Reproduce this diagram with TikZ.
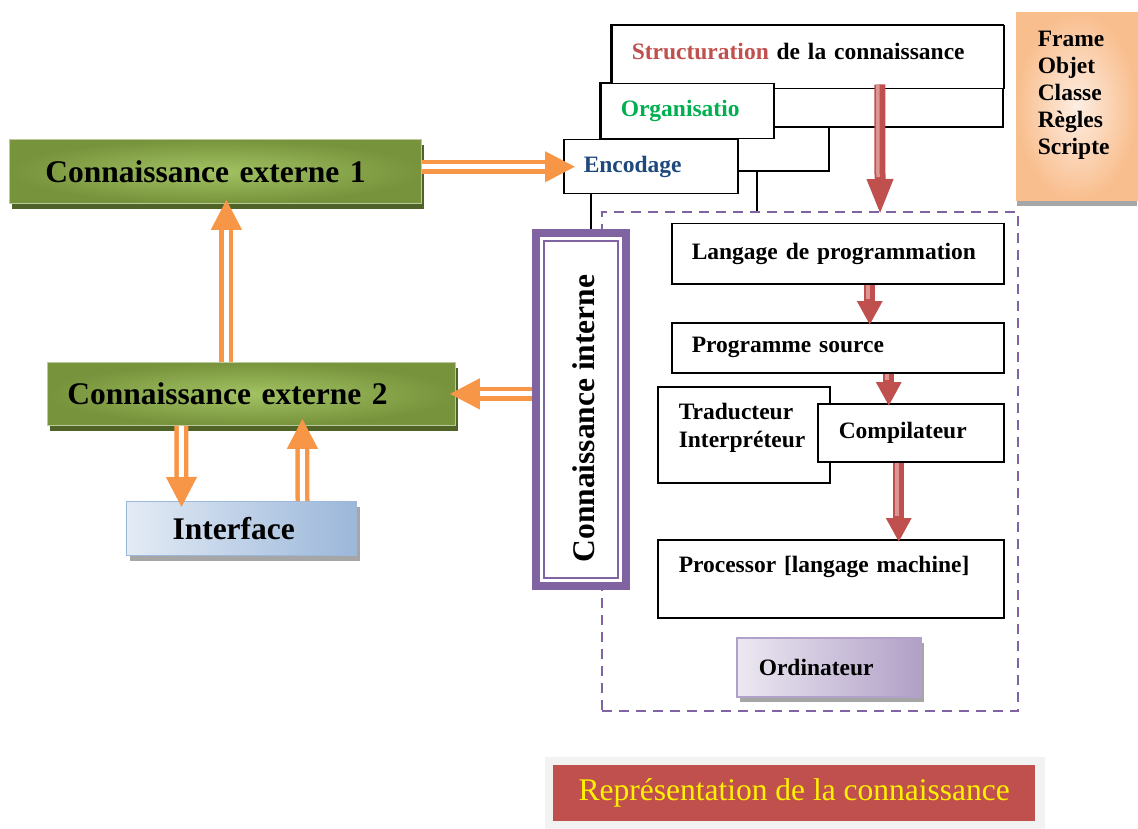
\documentclass[tikz,border=0pt]{standalone}
\usepackage{fontspec}
\setmainfont{Liberation Serif}
\usetikzlibrary{arrows.meta}
\usetikzlibrary{shadows}

\definecolor{olivegreen}{HTML}{77933C}
\definecolor{olivelight}{HTML}{A2C262}
\definecolor{oliveshade}{HTML}{4F6228}
\definecolor{orangearrow}{HTML}{F79646}
\definecolor{redarrow}{HTML}{C0504D}
\definecolor{redlight}{HTML}{DC9593}
\definecolor{purpleline}{HTML}{8064A2}
\definecolor{purplelight}{HTML}{ECE8F2}
\definecolor{purpledark}{HTML}{B1A0C7}
\definecolor{bluelight}{HTML}{E3EBF5}
\definecolor{bluedark}{HTML}{9BB7DA}
\definecolor{peachlight}{HTML}{FDEEE2}
\definecolor{peachdark}{HTML}{F9BE8E}
\definecolor{strucred}{HTML}{C0504D}
\definecolor{orgagreen}{HTML}{00B050}
\definecolor{encblue}{HTML}{1F497D}
\definecolor{graybg}{HTML}{F2F2F2}
\definecolor{shadowgray}{HTML}{A6A6A6}

\begin{document}
\begin{tikzpicture}[x=1pt, y=-1pt,
  smalltext/.style={font=\fontsize{23.5}{28}\selectfont\bfseries},
  bigtext/.style={font=\fontsize{31.5}{36}\selectfont\bfseries},
  cell/.style={smalltext, draw=black, line width=1.5pt, fill=white, anchor=north west,
    inner xsep=20pt, inner ysep=0pt, align=left},
  backbox/.style={draw=black, line width=1.5pt, fill=white},
  extbox/.style={bigtext, anchor=north west, inner ysep=0pt, align=left,
    inner color=olivelight, outer color=olivegreen, draw=olivegreen!50!white, line width=.8pt,
    drop shadow={shadow xshift=3pt, shadow yshift=-6pt, fill=oliveshade, opacity=1}},
  oarrow/.style={draw=orangearrow, line width=4.5pt, double=white, double distance=5pt,
    -{Triangle[length=30pt, width=30pt]}},
  rarrow/.style={draw=redarrow, line width=11pt, -{Triangle[length=24pt, width=24pt]}},
  shine/.style={draw=redlight, line width=3.5pt, transform canvas={xshift=-2pt}}
]
\useasboundingbox (0,0) rectangle (1138,829);

\node[draw=peachdark, line width=1.5pt, inner color=peachlight, outer color=peachdark,
  font=\fontsize{23.5}{27}\selectfont\bfseries, anchor=north west, minimum height=188pt,
  inner xsep=21pt, text width=78pt, align=left,
  drop shadow={shadow xshift=0pt, shadow yshift=-5pt, fill=shadowgray, opacity=1}]
  (kinds) at (1016,12) {Frame\\Objet\\Classe\\Règles\\Scripte\\ \mbox{}};

\filldraw[backbox] (591,150) rectangle (757,260);
\filldraw[backbox] (600,83) rectangle (829,171);
\filldraw[backbox] (611,25) rectangle (1003,127);

\node[cell, minimum height=63pt, text width=352pt] (struct) at (611,25)
  {\textcolor{strucred}{Structuration} de la connaissance\\[-16pt]\mbox{}};
\node[cell, minimum height=55pt, text width=133pt, text=orgagreen] (organ) at (600,83) {Organisatio};
\node[cell, minimum height=54pt, text width=134pt, text=encblue] (enc) at (563,139) {Encodage};

\node[draw=purpleline, dash pattern=on 10pt off 7pt, line width=2.2pt, fill=white,
  anchor=north west, minimum width=416pt, minimum height=499pt] (ordibox) at (601,211) {};

\node[draw=purpleline, line width=8pt, fill=white, anchor=north west,
  minimum width=90pt, minimum height=353pt] (ci) at (532,229) {};
\draw[purpleline, line width=2pt] ([shift={(12pt,-12pt)}]ci.north west)
  rectangle ([shift={(-12pt,12pt)}]ci.south east);
\node[bigtext, rotate=90] (citext) at ([xshift=3pt, yshift=-9pt]ci.center) {Connaissance interne};

\node[cell, minimum height=60pt, text width=292pt] (lang) at (671,223) {Langage de programmation};
\node[cell, minimum height=50pt, text width=292pt] (src) at (671,322) {Programme source};
\node[cell, minimum height=96pt, inner xsep=21pt, text width=130pt] (trad) at (657,386)
  {Traducteur\\Interpréteur\\[-10pt]\mbox{}};
\node[cell, minimum height=58pt, inner xsep=21pt, text width=144pt] (comp) at (817,403) {Compilateur};
\node[cell, minimum height=78pt, inner xsep=21pt, text width=304pt] (proc) at (657,539)
  {Processor [langage machine]\\ \mbox{}};
\node[cell, draw=purpledark, left color=purplelight, right color=purpledark, minimum height=59pt,
  inner xsep=22pt, text width=140pt,
  drop shadow={shadow xshift=3pt, shadow yshift=-5pt, fill=shadowgray, opacity=1}]
  (ord) at (736,637) {Ordinateur};

\draw[rarrow, -{Triangle[length=36pt, width=24pt]}] ([xshift=72pt, yshift=5pt]struct.south)
  -- ([xshift=70pt, yshift=-4pt]ordibox.north);
\draw[shine, shorten >=38pt] ([xshift=72pt, yshift=5pt]struct.south)
  -- ([xshift=70pt, yshift=-4pt]ordibox.north);
\foreach \from/\to/\dx/\ex in {lang/src/32/32, src/comp/51/-22, comp/proc/-12/68} {
  \draw[rarrow] ([xshift=\dx pt]\from.south) -- ([xshift=\ex pt, yshift=-3pt]\to.north);
  \draw[shine, shorten >=26pt] ([xshift=\dx pt]\from.south) -- ([xshift=\ex pt, yshift=-3pt]\to.north);
}

\node[extbox, minimum height=64pt, inner xsep=36pt, text width=340pt] (ce1) at (9,139)
  {Connaissance externe 1};
\node[extbox, minimum height=63pt, inner xsep=20pt, text width=368pt] (ce2) at (47,362)
  {Connaissance externe 2};
\node[bigtext, anchor=north west, inner ysep=0pt, inner xsep=46pt, text width=138pt, align=left,
  minimum height=54pt, left color=bluelight, right color=bluedark, draw=bluedark, line width=1pt,
  drop shadow={shadow xshift=3pt, shadow yshift=-5pt, fill=shadowgray, opacity=1}]
  (iface) at (126,501) {Interface};

\draw[oarrow] (ce1.east |- enc.west) -- ([xshift=12pt]enc.west);
\draw[oarrow] ([xshift=-25pt]ce2.north) -- ([xshift=11pt, yshift=4pt]ce1.south);
\draw[oarrow] (ci.west |- ce2.east) -- ([xshift=-6pt]ce2.east);
\draw[oarrow] ([xshift=-70pt]ce2.south) -- ([xshift=-60pt, yshift=-6pt]iface.north);
\draw[oarrow] ([xshift=61pt]iface.north) -- ([xshift=51pt, yshift=7pt]ce2.south);

\fill[graybg] (545,757) rectangle (1045,829);
\node[anchor=north west, fill=redarrow, text=yellow, font=\fontsize{31.5}{36}\selectfont,
  minimum height=56pt, minimum width=482pt, inner sep=0pt]
  (repr) at (553,765) {Représentation de la connaissance};
\end{tikzpicture}
\end{document}
